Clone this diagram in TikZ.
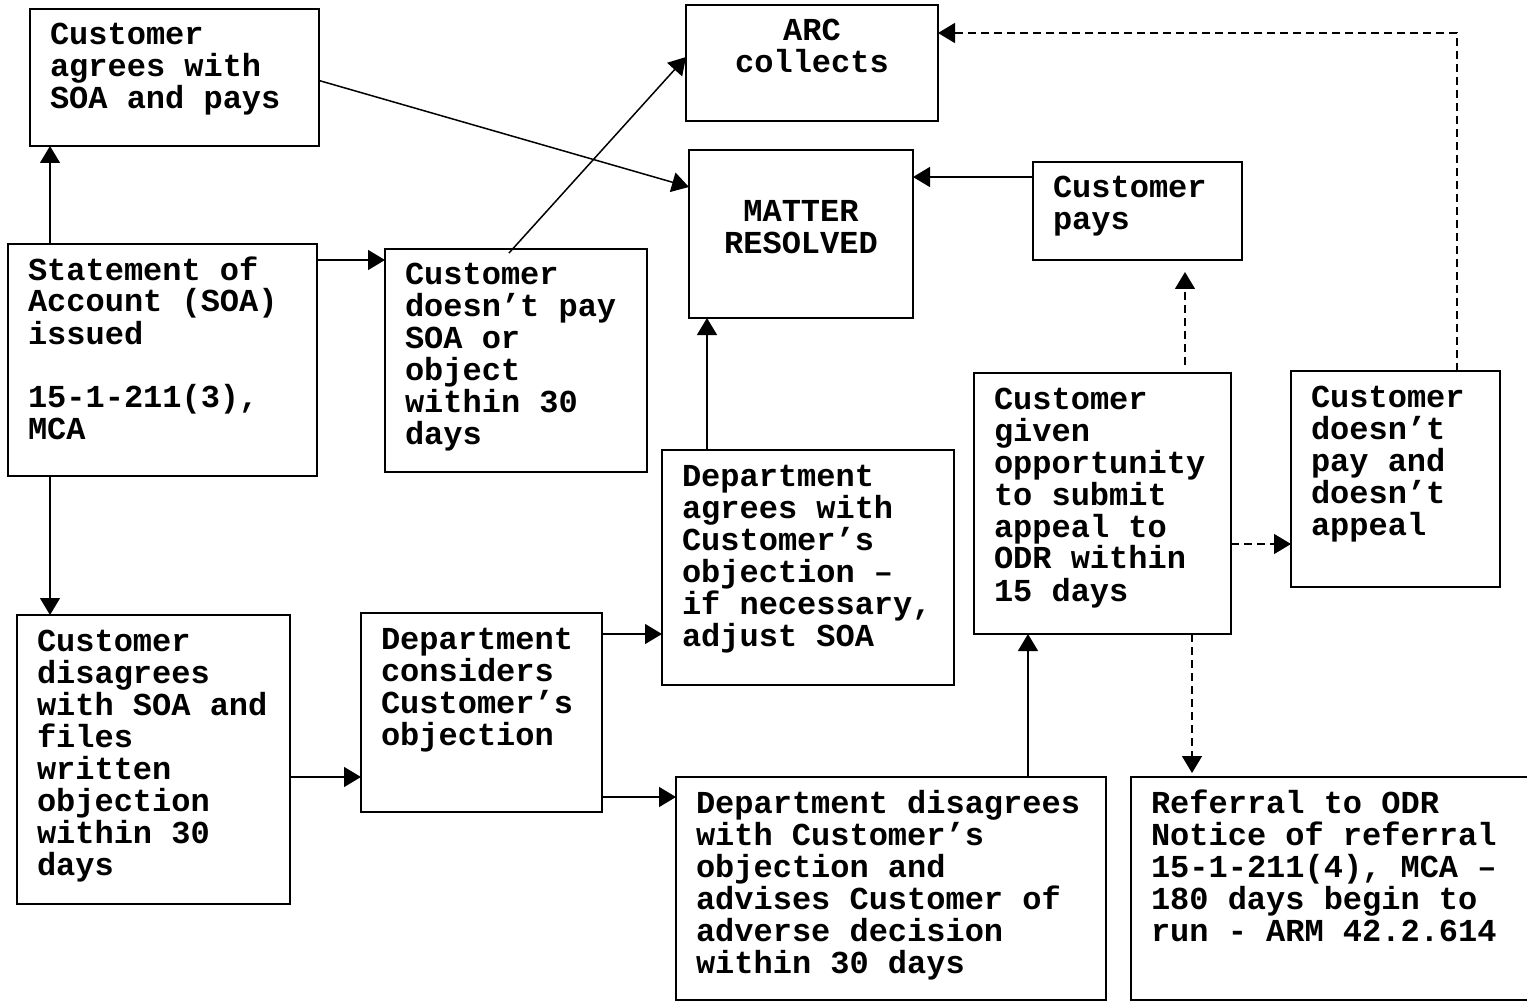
\documentclass[tikz,border=0pt]{standalone}
\usepackage{fontspec}
\usepackage{tikz}
\usetikzlibrary{arrows.meta}
\newfontfamily\flowfont{Liberation Mono}
\tikzset{
  flowbox/.style={rectangle, draw, line width=2pt, anchor=north west,
                  inner xsep=20pt, inner ysep=0pt, outer sep=0pt,
                  align=left, text height=36pt,
                  font=\fontsize{32pt}{32pt}\selectfont\flowfont\bfseries,
                  execute at begin node={\spaceskip=19.2pt\xspaceskip=19.2pt}},
  flow/.style={-{Triangle[length=17pt,width=20pt]}, line width=1.5pt},
  flowd/.style={flow, dash pattern=on 8pt off 5pt},
}
\newcommand{\FlowBox}[6][]{%
  \pgfmathsetmacro{\fbwd}{#4-40}%
  \pgfmathsetmacro{\fbdp}{#5-36}%
  \node[flowbox, minimum width=#4pt, text width=\fbwd pt,
        text depth=\fbdp pt, #1] (#2) at #3 {#6};}

\begin{document}
\begin{tikzpicture}[x=1pt, y=-1pt]
  \useasboundingbox (0,0) rectangle (1527,1003);

  % --- statement and the customer's first answers ---
  \FlowBox{soa}{(8,244)}{309}{232}{%
    Statement of\\
    Account (SOA)\\
    issued\\[32pt]
    15-1-211(3),\\
    MCA}
  \FlowBox{agree}{(30,9)}{289}{137}{%
    Customer\\
    agrees with\\
    SOA and pays}
  \FlowBox{nopay}{(385,249)}{262}{223}{%
    Customer\\
    doesn’t pay\\
    SOA or\\
    object\\
    within 30\\
    days}
  \FlowBox{disagree}{(17,615)}{273}{289}{%
    Customer\\
    disagrees\\
    with SOA and\\
    files\\
    written\\
    objection\\
    within 30\\
    days}

  % --- outcomes ---
  \FlowBox[align=center]{arc}{(686,5)}{252}{116}{%
    ARC\\
    collects}
  \FlowBox[align=center, text height=72pt, text depth=96pt]{matter}{(689,150)}{224}{168}{%
    MATTER\\
    RESOLVED}
  \FlowBox{pays}{(1033,162)}{209}{98}{%
    Customer\\
    pays}

  % --- department review ---
  \FlowBox{consider}{(361,613)}{241}{199}{%
    Department\\
    considers\\
    Customer’s\\
    objection}
  \FlowBox{deptagree}{(662,450)}{292}{235}{%
    Department\\
    agrees with\\
    Customer’s\\
    objection –\\
    if necessary,\\
    adjust SOA}
  \FlowBox{deptdis}{(676,777)}{430}{223}{%
    Department disagrees\\
    with Customer’s\\
    objection and\\
    advises Customer of\\
    adverse decision\\
    within 30 days}

  % --- appeal stage ---
  \FlowBox{appealopp}{(974,373)}{257}{261}{%
    Customer\\
    given\\
    opportunity\\
    to submit\\
    appeal to\\
    ODR within\\
    15 days}
  \FlowBox{noappeal}{(1291,371)}{209}{216}{%
    Customer\\
    doesn’t\\
    pay and\\
    doesn’t\\
    appeal}
  \FlowBox{referral}{(1131,777)}{400}{223}{%
    Referral to ODR\\
    Notice of referral\\
    15-1-211(4), MCA –\\
    180 days begin to\\
    run - ARM 42.2.614}

  % --- solid links ---
  \draw[flow] ([xshift=42pt]soa.north west) -- ([xshift=20pt]agree.south west);
  \draw[flow] ([xshift=42pt]soa.south west) -- ([xshift=33pt]disagree.north west);
  \draw[flow] ([yshift=-16pt]soa.north east) -- ([yshift=-16pt]soa.north east -| nopay.west);
  \draw[flow] ([yshift=-3pt]agree.east) -- ([yshift=-37pt]matter.north west);
  \draw[flow] ([xshift=124pt,yshift=-4pt]nopay.north west) -- ([yshift=-52pt]arc.north west);
  \draw[flow] ([yshift=-15pt]pays.north west) -- ([yshift=-15pt]pays.north west -| matter.east);
  \draw[flow] ([xshift=45pt]deptagree.north west) -- ([xshift=45pt]deptagree.north west |- matter.south);
  \draw[flow] ([yshift=-162pt]disagree.north east) -- ([yshift=-162pt]disagree.north east -| consider.west);
  \draw[flow] ([yshift=-21pt]consider.north east) -- ([yshift=-21pt]consider.north east -| deptagree.west);
  \draw[flow] ([yshift=-184pt]consider.north east) -- ([yshift=-184pt]consider.north east -| deptdis.west);
  \draw[flow] ([xshift=352pt]deptdis.north west) -- ([xshift=352pt]deptdis.north west |- appealopp.south);

  % --- dashed links ---
  \draw[flowd, shorten >=12pt] ([xshift=211pt,yshift=8pt]appealopp.north west)
    -- ([xshift=211pt]appealopp.north west |- pays.south);
  \draw[flowd] ([yshift=-171pt]appealopp.north east) -- ([yshift=-171pt]appealopp.north east -| noappeal.west);
  \draw[flowd, shorten >=4pt] ([xshift=218pt]appealopp.south west)
    -- ([xshift=218pt]appealopp.south west |- referral.north);
  \draw[flowd] ([xshift=166pt]noappeal.north west) |- ([yshift=-28pt]arc.north east);
\end{tikzpicture}
\end{document}
